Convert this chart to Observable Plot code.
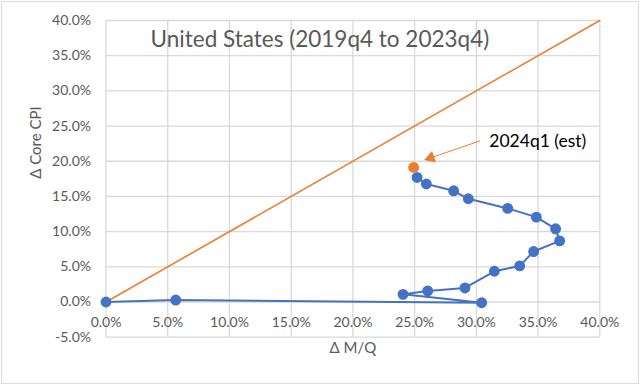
<!DOCTYPE html>
<html>
<head>
<meta charset="utf-8">
<script src="https://cdn.jsdelivr.net/npm/d3@7"></script>
<script src="https://cdn.jsdelivr.net/npm/@observablehq/plot@0.6"></script>
<style>
  body { margin: 0; background: #fff; }
  #wrap { position: relative; width: 640px; height: 385px; }
  #border { position: absolute; left: 1px; top: 1px; width: 636px; height: 381px; border: 1px solid #d9d9d9; pointer-events: none; }
</style>
</head>
<body>
<div id="wrap"><div id="border"></div></div>
<script>
// Δ M/Q (%) and Δ Core CPI (%) cumulative since 2019q4
const quarters = ["2019q4","2020q1","2020q2","2020q3","2020q4","2021q1","2021q2","2021q3","2021q4","2022q1","2022q2","2022q3","2022q4","2023q1","2023q2","2023q3","2023q4"];
const deltaMQ  = [0, 5.65, 30.43, 24.06, 26.06, 29.08, 31.46, 33.51, 34.64, 36.75, 36.42, 34.86, 32.54, 29.35, 28.16, 25.95, 25.2];
const deltaCPI = [0, 0.28, -0.1, 1.09, 1.57, 2.0, 4.37, 5.13, 7.17, 8.69, 10.4, 12.06, 13.3, 14.67, 15.8, 16.77, 17.7];
const estLabel = ["2024q1 (est)"];
const estMQ = [24.92];
const estCPI = [19.13];
const diagonal = [0, 40];
const xTicks = [0, 5, 10, 15, 20, 25, 30, 35, 40];
const yTicks = [-5, 0, 5, 10, 15, 20, 25, 30, 35, 40];
const title = "United States (2019q4 to 2023q4)";
const xLabel = "Δ M/Q";
const yLabel = "Δ Core CPI";
// annotation anchor points (data units)
const noteText = {x: 31.05, y: 22.8};
const noteArrow = {x1: 30.3, y1: 22.9, x2: 26.0, y2: 20.3};

const series = quarters.map((q, i) => ({q, x: deltaMQ[i], y: deltaCPI[i]}));
const est = estLabel.map((q, i) => ({q, x: estMQ[i], y: estCPI[i]}));
const fmt = d => d.toFixed(1) + "%";
const blue = "#4472C4", orange = "#ED7D31", gray = "#595959", grid = "#d9d9d9";
const font = "Lato, 'Open Sans', sans-serif";

// arrow head angle (screen)
const xs = d3.scaleLinear([0, 40], [105.5, 599.3]);
const ys = d3.scaleLinear([-5, 40], [336.7, 20]);
const ang = Math.atan2(ys(noteArrow.y2) - ys(noteArrow.y1), xs(noteArrow.x2) - xs(noteArrow.x1)) * 180 / Math.PI;

const chart = Plot.plot({
  width: 640,
  height: 385,
  marginLeft: 105.5,
  marginRight: 40.7,
  marginTop: 20,
  marginBottom: 48.3,
  style: {fontFamily: font, background: "transparent"},
  x: {domain: [0, 40]},
  y: {domain: [-5, 40]},
  marks: [
    Plot.ruleX(xTicks, {stroke: grid, strokeWidth: 1.3, strokeOpacity: 1}),
    Plot.ruleY(yTicks, {stroke: grid, strokeWidth: 1.3, strokeOpacity: 1}),
    Plot.axisY({ticks: yTicks, tickSize: 0, tickPadding: 15, tickFormat: fmt, fontSize: 14, color: gray, label: null}),
    Plot.axisX({ticks: [], label: null, tickSize: 0}),
    Plot.text(xTicks, {x: d => d, y: 0, dy: 21, text: fmt, fontSize: 14, fill: gray}),
    Plot.line(diagonal, {x: d => d, y: d => d, stroke: orange, strokeWidth: 1.6}),
    Plot.line(series, {x: "x", y: "y", stroke: blue, strokeWidth: 2}),
    Plot.dot(series, {x: "x", y: "y", r: 4.7, fill: blue, stroke: blue}),
    Plot.dot(est, {x: "x", y: "y", r: 4.7, fill: orange, stroke: orange}),
    Plot.link([noteArrow], {x1: "x1", y1: "y1", x2: "x2", y2: "y2", stroke: orange, strokeWidth: 1}),
    Plot.dot([noteArrow], {x: "x2", y: "y2", symbol: "triangle", r: 4.5, fill: orange, stroke: "none", rotate: ang + 90, dx: -Math.cos(ang*Math.PI/180)*4, dy: -Math.sin(ang*Math.PI/180)*4}),
    Plot.text(estLabel, {x: noteText.x, y: noteText.y, text: d => d, textAnchor: "start", fontSize: 17.5, fill: "#000"}),
    Plot.text([title], {frameAnchor: "top", dx: -33, dy: 11, text: d => d, fontSize: 22.5, fill: gray}),
    Plot.text([yLabel], {frameAnchor: "left", dx: -70, rotate: -90, text: d => d, fontSize: 15, fill: gray}),
    Plot.text([xLabel], {frameAnchor: "bottom", dy: 16, text: d => d, fontSize: 15, fill: gray})
  ]
});
document.getElementById("wrap").prepend(chart);
</script>
</body>
</html>
